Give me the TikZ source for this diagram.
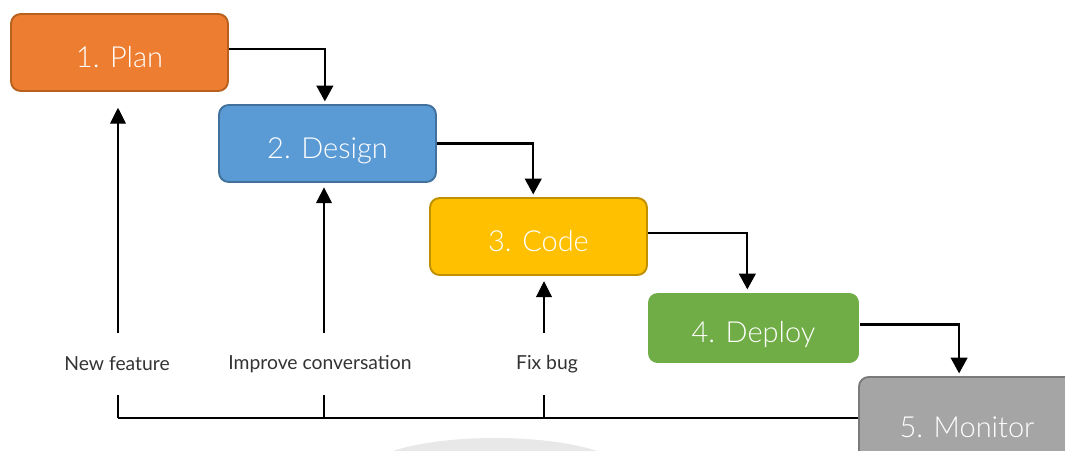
\documentclass[tikz,border=0pt]{standalone}
\usepackage{fontspec}
\setmainfont{Lato}
\newfontfamily\thinfont{Lato Light}
\usetikzlibrary{arrows.meta}

\definecolor{planfill}{HTML}{ED7D31}
\definecolor{planline}{HTML}{B8611F}
\definecolor{designfill}{HTML}{5B9BD5}
\definecolor{designline}{HTML}{41719C}
\definecolor{codefill}{HTML}{FFC000}
\definecolor{codeline}{HTML}{BF9000}
\definecolor{deployfill}{HTML}{70AD47}
\definecolor{monitorfill}{HTML}{A5A5A5}
\definecolor{monitorline}{HTML}{7B7B7B}
\definecolor{tagtext}{HTML}{333333}

\begin{document}
\begin{tikzpicture}[x=0.02cm,y=-0.02cm,
  stage/.style={rounded corners=5.5pt,line width=1.1pt,minimum width=4.34cm,minimum height=1.54cm,
    text=white,font=\thinfont\fontsize{16.5}{18}\selectfont,text height=17pt,text depth=0pt},
  tag/.style={text=tagtext,font=\fontsize{11}{12}\selectfont,minimum height=1.22cm},
  flow/.style={-{Triangle[width=9.5pt,length=9pt]},line width=1.2pt,shorten >=1.5pt},
  feed/.style={-{Triangle[width=9pt,length=9pt]},line width=0.6pt}]
\useasboundingbox (0,0) rectangle (1065,450);

\fill [black!9] (495,472) ellipse [x radius=130,y radius=34];

\node [stage,fill=planfill,draw=planline] (plan) at (119.5,52.5) {1. Plan};
\node [stage,fill=designfill,draw=designline] (design) at (327.5,143.5) {2. Design};
\node [stage,fill=codefill,draw=codeline] (code) at (538.5,236.5) {3. Code};
\node [stage,fill=deployfill,minimum width=4.22cm,minimum height=1.4cm] (deploy) at (753.5,328) {4. Deploy};
\node [stage,fill=monitorfill,draw=monitorline,minimum width=4.32cm,minimum height=1.84cm] (monitor) at (967,423) {5. Monitor};

\draw [flow] ([yshift=2pt]plan.east) -| ([xshift=-1.5pt]design.north);
\draw [flow] (design.east) -| ([xshift=-3pt]code.north);
\draw [flow] ([yshift=2pt]code.east) -| ([xshift=-3.5pt]deploy.north);
\draw [flow] ([yshift=2pt]deploy.east) -| ([xshift=-4.5pt]monitor.north);

\node [tag] (feature) at (117,364) {New feature};
\node [tag] (convo) at (320,364) {Improve conversation};
\node [tag] (bugfix) at (547,364) {Fix bug};

\coordinate (f1) at (118,418);
\coordinate (f2) at (324,418);
\coordinate (f3) at (544,418);

\draw [line width=0.6pt] (f1) -- (f1 -| monitor.west);
\draw [line width=0.6pt] (f1) -- (f1 |- feature.south);
\draw [line width=0.6pt] (f2) -- (f2 |- convo.south);
\draw [line width=0.6pt] (f3) -- (f3 |- bugfix.south);
\draw [feed,shorten >=9pt] (f1 |- feature.north) -- (f1 |- plan.south);
\draw [feed,shorten >=2.5pt] (f2 |- convo.north) -- (f2 |- design.south);
\draw [feed,shorten >=3pt] (f3 |- bugfix.north) -- (f3 |- code.south);
\end{tikzpicture}
\end{document}
